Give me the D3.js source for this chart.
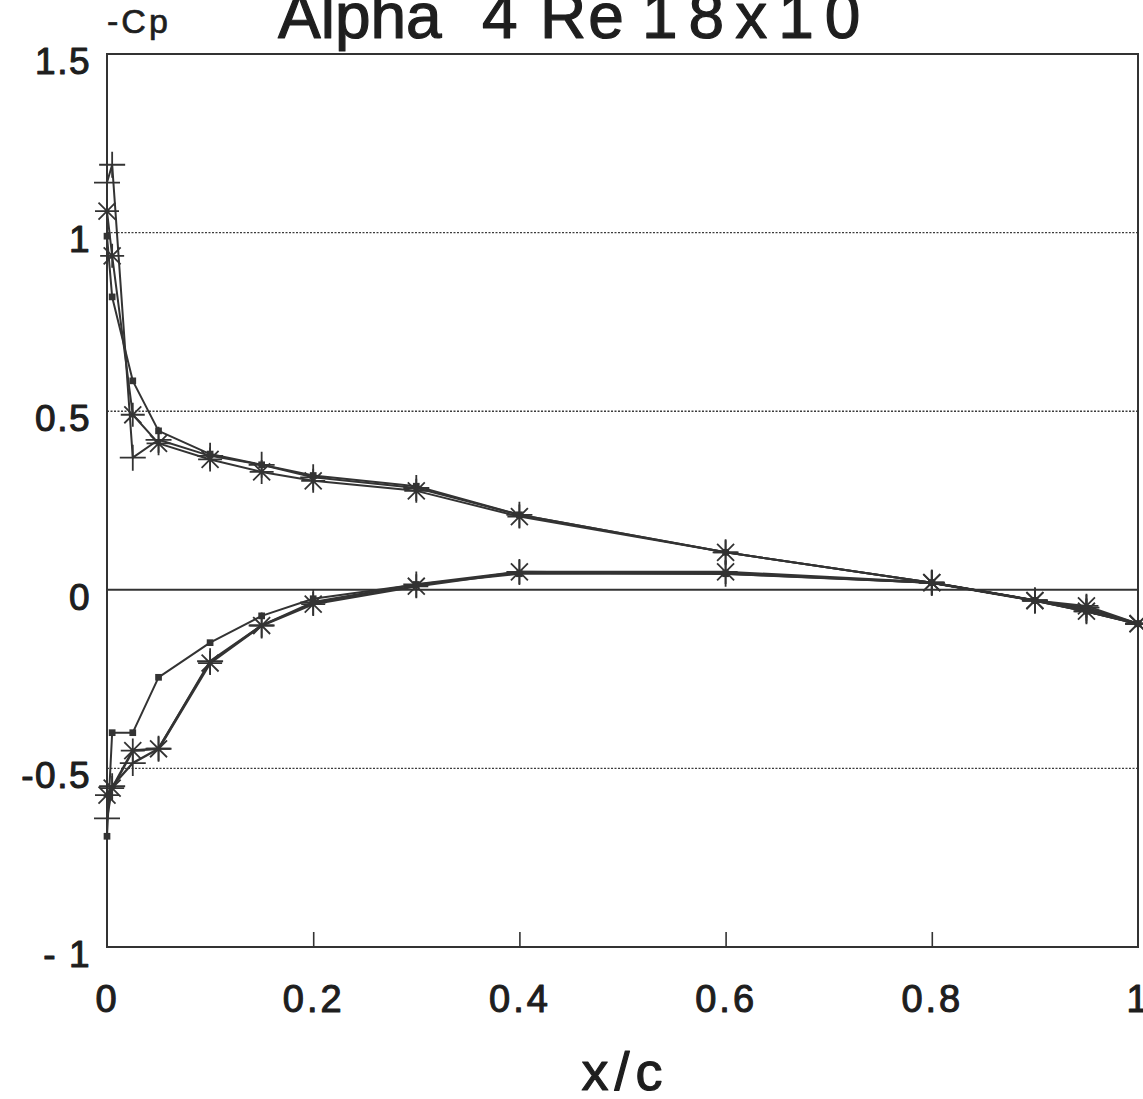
<!DOCTYPE html>
<html>
<head>
<meta charset="utf-8">
<script src="https://cdn.jsdelivr.net/npm/d3@7"></script>
<style>
  html, body { margin: 0; padding: 0; background: #fff; }
  svg { display: block; }
  text { font-family: "Liberation Sans", Arial, Helvetica, sans-serif; fill: #1e1e1e; }
</style>
</head>
<body>
<svg id="chart" width="1143" height="1099"></svg>
<script>
// Chordwise stations (x/c), shared by every surface
const stations = [0, 0.005, 0.025, 0.05, 0.1, 0.15, 0.2, 0.3, 0.4, 0.6, 0.8, 0.9, 0.95, 1.0];

// -Cp on the upper surface, one array per data set
const squareUpper   = [0.99, 0.82, 0.585, 0.445, 0.38, 0.35, 0.32, 0.29, 0.21, 0.105, 0.02, -0.03, -0.055, -0.095];
const plusUpper     = [1.14, 1.19, 0.37, 0.42, 0.375, 0.35, 0.315, 0.285, 0.21, 0.105, 0.02, -0.03, -0.05, -0.095];
const asteriskUpper = [1.06, 0.935, 0.49, 0.41, 0.365, 0.33, 0.305, 0.277, 0.205, 0.105, 0.02, -0.03, -0.045, -0.095];

// -Cp on the lower surface
const squareLower   = [-0.69, -0.40, -0.40, -0.245, -0.148, -0.073, -0.025, 0.015, 0.045, 0.045, 0.02, -0.03, -0.06, -0.095];
const plusLower     = [-0.64, -0.55, -0.485, -0.445, -0.20, -0.10, -0.035, 0.015, 0.05, 0.045, 0.02, -0.03, -0.06, -0.095];
const asteriskLower = [-0.575, -0.555, -0.45, -0.445, -0.205, -0.10, -0.04, 0.01, 0.05, 0.05, 0.02, -0.03, -0.06, -0.095];

// Axis ticks
const xTicks = [0, 0.2, 0.4, 0.6, 0.8, 1];
const xTickLabels = ["0", "0.2", "0.4", "0.6", "0.8", "1"];
const yTicks = [-1, -0.5, 0, 0.5, 1, 1.5];
const yTickLabels = ["- 1", "-0.5", "0", "0.5", "1", "1.5"];
const gridValues = [-0.5, 0.5, 1];

const titleParts = ["Alpha", "4", "Re", "18x10"];

const svg = d3.select("#chart");
const plotLeft = 107, plotRight = 1138, plotTop = 54, plotBottom = 947;

const x = d3.scaleLinear().domain([0, 1]).range([plotLeft, plotRight]);
const y = d3.scaleLinear().domain([-1, 1.5]).range([plotBottom, plotTop]);

const ink = "#333";
const textInk = "#1e1e1e";

// Text in a medium weight: regular face with a thin outline
function medium(sel, w) {
  sel.attr("fill", textInk)
    .attr("stroke", textInk)
    .attr("stroke-width", w)
    .attr("stroke-linejoin", "round");
}

// Dotted horizontal grid lines
svg.append("g").selectAll("line").data(gridValues).join("line")
  .attr("x1", x(0)).attr("x2", x(1))
  .attr("y1", d => y(d)).attr("y2", d => y(d))
  .attr("stroke", "#3c3c3c").attr("stroke-width", 1.4)
  .attr("stroke-dasharray", "2,1.5");

// Zero line
svg.append("line")
  .attr("x1", x(0)).attr("x2", x(1))
  .attr("y1", y(0)).attr("y2", y(0))
  .attr("stroke", ink).attr("stroke-width", 2);

// Plot frame
svg.append("rect")
  .attr("x", plotLeft).attr("y", plotTop)
  .attr("width", plotRight - plotLeft).attr("height", plotBottom - plotTop)
  .attr("fill", "none").attr("stroke", ink).attr("stroke-width", 2);

// Bottom axis: inward ticks and labels
const xAxis = d3.axisBottom(x)
  .tickValues(xTicks)
  .tickFormat((d, i) => xTickLabels[i])
  .tickSize(-15).tickPadding(0);
const gx = svg.append("g").attr("transform", `translate(0,${plotBottom})`).call(xAxis);
gx.select(".domain").remove();
gx.selectAll(".tick line")
  .attr("stroke", ink).attr("stroke-width", 1.6)
  .attr("display", (d, i) => (i === 0 || i === xTicks.length - 1) ? "none" : null);
gx.selectAll(".tick text")
  .attr("y", 65).attr("dy", 0)
  .style("font-size", "38px")
  .style("letter-spacing", "3px")
  .style("font-family", "'Liberation Sans', Arial, sans-serif")
  .call(medium, 1.1);

// Left axis labels
const yAxis = d3.axisLeft(y)
  .tickValues(yTicks)
  .tickFormat((d, i) => yTickLabels[i])
  .tickSize(0).tickPadding(16);
const gy = svg.append("g").attr("transform", `translate(${plotLeft},0)`).call(yAxis);
gy.select(".domain").remove();
gy.selectAll(".tick text")
  .attr("dy", "0.52em")
  .style("font-size", "37px")
  .style("letter-spacing", "1.5px")
  .style("font-family", "'Liberation Sans', Arial, sans-serif")
  .call(medium, 1.1);

// Marker shapes drawn as stroked paths through d3.symbol
const asteriskType = {
  draw(ctx, size) {
    const r = Math.sqrt(size) / 2, d = r * Math.SQRT1_2;
    ctx.moveTo(-r, 0); ctx.lineTo(r, 0);
    ctx.moveTo(0, -r); ctx.lineTo(0, r);
    ctx.moveTo(-d, -d); ctx.lineTo(d, d);
    ctx.moveTo(-d, d); ctx.lineTo(d, -d);
  }
};
const plusType = {
  draw(ctx, size) {
    const r = Math.sqrt(size) / 2;
    ctx.moveTo(-r, 0); ctx.lineTo(r, 0);
    ctx.moveTo(0, -r); ctx.lineTo(0, r);
  }
};

const line = d3.line().x(d => x(d[0])).y(d => y(d[1]));
const pairs = vals => stations.map((s, i) => [s, vals[i]]);

const series = [
  { vals: squareUpper,   marker: "square",   width: 2 },
  { vals: squareLower,   marker: "square",   width: 2 },
  { vals: plusUpper,     marker: "plus",     width: 2 },
  { vals: plusLower,     marker: "plus",     width: 2.4 },
  { vals: asteriskUpper, marker: "asterisk", width: 2 },
  { vals: asteriskLower, marker: "asterisk", width: 2.6 }
];

const plot = svg.append("g");

series.forEach(s => {
  plot.append("path")
    .datum(pairs(s.vals))
    .attr("d", line)
    .attr("fill", "none")
    .attr("stroke", ink)
    .attr("stroke-width", s.width)
    .attr("stroke-linejoin", "round");
});

series.forEach(s => {
  const pts = pairs(s.vals);
  if (s.marker === "square") {
    plot.append("g").selectAll("path").data(pts).join("path")
      .attr("transform", d => `translate(${x(d[0])},${y(d[1])})`)
      .attr("d", d3.symbol().type(d3.symbolSquare).size(45))
      .attr("fill", ink);
  } else {
    const type = s.marker === "plus" ? plusType : asteriskType;
    const size = s.marker === "plus" ? 26 * 26 : 24 * 24;
    plot.append("g").selectAll("path").data(pts).join("path")
      .attr("transform", d => `translate(${x(d[0])},${y(d[1])})`)
      .attr("d", d3.symbol().type(type).size(size))
      .attr("fill", "none")
      .attr("stroke", ink)
      .attr("stroke-width", 1.8);
  }
});

// Axis captions
svg.append("text")
  .attr("x", 107).attr("y", 33)
  .style("font-size", "34px")
  .style("letter-spacing", "3px")
  .call(medium, 0.7)
  .text("-Cp");

svg.append("text")
  .attr("x", 625).attr("y", 1090)
  .attr("text-anchor", "middle")
  .style("font-size", "54px")
  .style("letter-spacing", "6px")
  .call(medium, 1.2)
  .text("x/c");

// Title, partly above the top edge of the page
const titleX = [278, 482, 540, 642];
const titleSpacing = [0, 0, 2, 11];
const title = svg.append("text")
  .attr("y", 38)
  .style("font-size", "64px")
  .call(medium, 1.2);
title.selectAll("tspan").data(titleParts).join("tspan")
  .attr("x", (d, i) => titleX[i])
  .style("letter-spacing", (d, i) => titleSpacing[i] + "px")
  .text(d => d);
</script>
</body>
</html>
